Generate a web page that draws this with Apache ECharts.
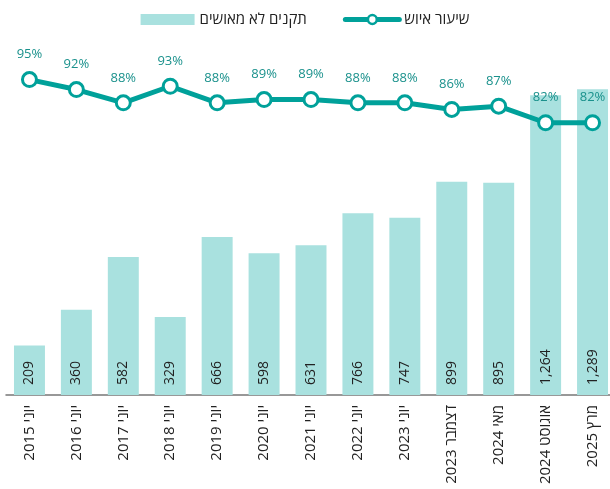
<!DOCTYPE html>
<html><head><meta charset="utf-8">
<script src="https://cdn.jsdelivr.net/npm/echarts@6/dist/echarts.min.js"></script>
<style>html,body{margin:0;padding:0;background:#fff}#c{width:610px;height:489px}</style>
</head><body><div id="c"></div>
<script>
const categories = ['יוני 2015','יוני 2016','יוני 2017','יוני 2018','יוני 2019','יוני 2020','יוני 2021','יוני 2022','יוני 2023','דצמבר 2023','מאי 2024','אוגוסט 2024','מרץ 2025'];
const unapprovedPositions = [209,360,582,329,666,598,631,766,747,899,895,1264,1289];
const staffingRate = [95,92,88,93,88,89,89,88,88,86,87,82,82];
const barName = 'תקנים לא מאושים';
const lineName = 'שיעור איוש';
const font = "'Open Sans','DejaVu Sans',sans-serif";
const rtl = s => '\u202B' + s + '\u202C';
const chart = echarts.init(document.getElementById('c'));
chart.setOption({
  animation:false,
  textStyle:{fontFamily:font},
  legend:{top:7,left:'center',itemWidth:54,itemHeight:11,itemGap:36,
    textStyle:{fontFamily:font,fontSize:15,color:'#222'},
    data:[{name:barName,icon:'rect'},
          {name:lineName,itemStyle:{color:'#fff',borderColor:'#00a19a',borderWidth:2.5},
           lineStyle:{color:'#00a19a',width:5,cap:'round'}}]},
  grid:{left:6,width:610,top:63,bottom:94,containLabel:false,outerBoundsMode:'none'},
  xAxis:{type:'category',data:categories,
    axisLine:{lineStyle:{color:'#777',width:1.5}},axisTick:{show:false},
    axisLabel:{rotate:90,interval:0,margin:10,fontSize:15,color:'#222',fontFamily:font,formatter:v=>rtl(v)}},
  yAxis:[{type:'value',min:0,max:1400,show:false,splitLine:{show:false}},
         {type:'value',min:0,max:100,show:false,splitLine:{show:false}}],
  series:[
    {name:barName,type:'bar',data:unapprovedPositions,barWidth:'66%',yAxisIndex:0,
     itemStyle:{color:'#a9e1df'},
     label:{show:true,position:'insideBottom',rotate:90,align:'left',verticalAlign:'middle',distance:10,
       fontSize:14,color:'#222',fontFamily:font,
       formatter:p=>p.value.toLocaleString('en-US')}},
    {name:lineName,type:'line',data:staffingRate,yAxisIndex:1,z:5,
     symbol:'circle',symbolSize:14,
     lineStyle:{color:'#00a19a',width:5},
     itemStyle:{color:'#fff',borderColor:'#00a19a',borderWidth:3},
     label:{show:true,position:'top',distance:10,fontSize:13,color:'#1a918c',fontFamily:font,formatter:p=>p.value+'%'}}
  ]
});
</script></body></html>
